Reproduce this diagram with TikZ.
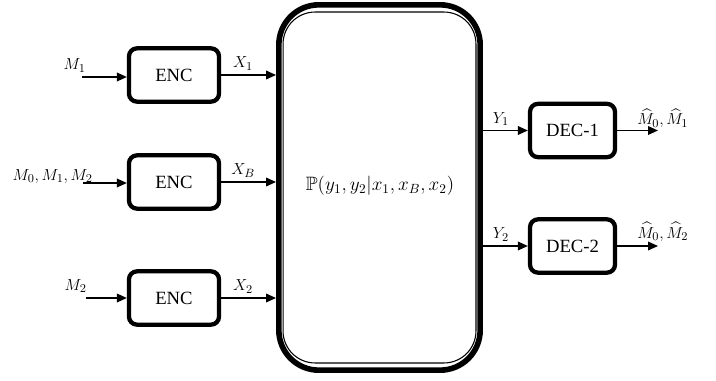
\documentclass[tikz,border=0pt]{standalone}
\usepackage{amssymb}
\usepackage{fontspec}
\setmainfont{Liberation Serif}
\usetikzlibrary{arrows.meta,calc}
\begin{document}
\begin{tikzpicture}[x=0.75pt,y=-0.75pt,
  blk/.style={draw, line width=3.2pt, rounded corners=6pt, minimum width=67.5pt, minimum height=40pt, inner sep=0pt, font=\fontsize{14}{16}\selectfont},
  arr/.style={line width=1.1pt, -{Triangle[length=7.5pt,width=6.5pt]}},
  lbl/.style={inner sep=0pt, font=\fontsize{13}{15}\selectfont}]
\useasboundingbox (0,0) rectangle (716,381);
% encoders
\node[blk] (e1) at (174,75) {ENC};
\node[blk] (e2) at (174,182) {ENC};
\node[blk] (e3) at (174,298) {ENC};
% channel
\node[draw, line width=4.2pt, rounded corners=30pt, minimum width=151pt, minimum height=274pt, inner sep=0pt] (ch) at (379.5,187.5) {};
\draw[line width=0.8pt, rounded corners=24pt] ($(ch.north west)+(7,10)$) rectangle ($(ch.south east)+(-7,-10)$);
\node[lbl, font=\fontsize{14.5}{16}\selectfont] (pl) at (380,186) {$\mathbb{P}(y_1,y_2|x_1,x_B,x_2)$};
% decoders
\node[blk, minimum width=63.75pt] (d1) at (572.5,130.5) {DEC-1};
\node[blk, minimum width=63.75pt] (d2) at (572.5,246) {DEC-2};
% inputs
\coordinate (m1) at (82,77);
\coordinate (m2) at (83,183);
\coordinate (m3) at (86,298);
\draw[arr] (m1) -- (m1 -| e1.west);
\draw[arr] (m2) -- (m2 -| e2.west);
\draw[arr] (m3) -- (m3 -| e3.west);
\node[lbl, anchor=base east] (lm1) at (86,70) {$M_1$};
\node[lbl, anchor=base east] (lm2) at (93,180) {$M_0,M_1,M_2$};
\node[lbl, anchor=base east] (lm3) at (87,290) {$M_2$};
% encoder outputs
\draw[arr] (e1.east) -- (e1.east -| ch.west) node[lbl, pos=0.4, above, inner sep=3pt] {$X_1$};
\draw[arr] (e2.east) -- (e2.east -| ch.west) node[lbl, pos=0.4, above, inner sep=3pt] {$X_B$};
\draw[arr] (e3.east) -- (e3.east -| ch.west) node[lbl, pos=0.4, above, inner sep=3pt] {$X_2$};
% channel outputs
\draw[arr] (d1.west -| ch.east) -- (d1.west) node[lbl, pos=0.4, above, inner sep=3pt] {$Y_1$};
\draw[arr] (d2.west -| ch.east) -- (d2.west) node[lbl, pos=0.4, above, inner sep=3pt] {$Y_2$};
% decoder outputs
\coordinate (o1) at (658,130.5);
\coordinate (o2) at (658,246);
\draw[arr] (d1.east) -- (o1);
\draw[arr] (d2.east) -- (o2);
\node[lbl, anchor=base west] (lo1) at (637,125) {$\widehat{M}_0,\widehat{M}_1$};
\node[lbl, anchor=base west] (lo2) at (637,238) {$\widehat{M}_0,\widehat{M}_2$};
\end{tikzpicture}
\end{document}
